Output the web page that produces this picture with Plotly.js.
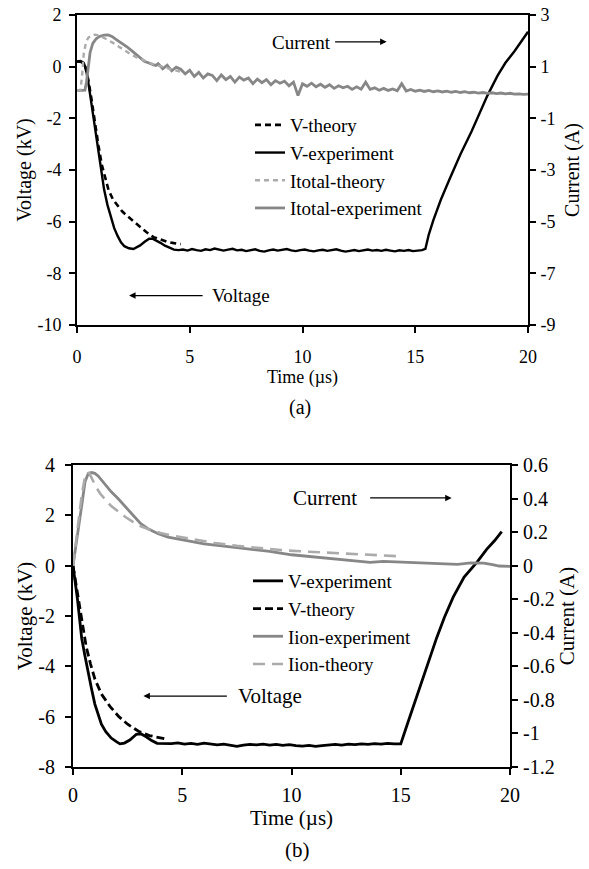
<!DOCTYPE html>
<html><head><meta charset="utf-8">
<script src="https://cdn.plot.ly/plotly-3.0.1.min.js"></script>
<style>html,body{margin:0;padding:0;background:#fff}#chart{width:589px;height:869px}</style>
</head><body><div id="chart"></div><script>
// ---------- (a) top panel ----------
const tA_Vtheory = [0,0.2,0.35,0.5,0.65,0.8,0.95,1.1,1.25,1.4,1.6,1.8,2.0,2.2,2.5,2.8,3.1,3.4,3.7,4.0,4.3,4.6];
const vA_theory = [0.2,0.18,0.05,-0.5,-1.3,-2.2,-3.05,-3.8,-4.35,-4.78,-5.15,-5.4,-5.6,-5.76,-5.98,-6.2,-6.42,-6.6,-6.7,-6.78,-6.83,-6.87];

const tA_Vexp = [0,0.15,0.3,0.4,0.5,0.6,0.7,0.8,0.9,1.0,1.1,1.2,1.35,1.5,1.65,1.8,1.95,2.1,2.3,2.5,2.65,2.8,3.0,3.2,3.35,3.5,3.7,3.9,4.1,4.3,4.5,
 4.7,4.9,5.1,5.3,5.5,5.7,5.9,6.1,6.3,6.5,6.7,6.9,7.1,7.3,7.5,7.7,7.9,8.1,8.3,8.5,8.7,8.9,9.1,9.3,9.5,9.7,9.9,
 10.1,10.3,10.5,10.7,10.9,11.1,11.3,11.5,11.7,11.9,12.1,12.3,12.5,12.7,12.9,13.1,13.3,13.5,13.7,13.9,14.1,14.3,14.5,14.7,14.9,15.1,15.3,
 15.45,15.6,15.8,16.13,16.5,17.0,17.5,18.0,18.2,18.65,19.0,19.4,19.7,20.0];
const vA_exp = [0.2,0.22,0.15,-0.1,-0.6,-1.2,-1.8,-2.5,-3.1,-3.7,-4.25,-4.75,-5.35,-5.85,-6.25,-6.55,-6.8,-6.95,-7.03,-7.06,-7.0,-6.92,-6.78,-6.66,-6.66,-6.72,-6.82,-6.93,-7.02,-7.08,-7.1,
 -7.08,-7.12,-7.06,-7.1,-7.13,-7.07,-7.1,-7.04,-7.09,-7.12,-7.08,-7.05,-7.11,-7.09,-7.14,-7.1,-7.07,-7.13,-7.16,-7.11,-7.08,-7.12,-7.09,-7.06,-7.11,-7.14,-7.1,
 -7.08,-7.12,-7.15,-7.11,-7.09,-7.13,-7.1,-7.07,-7.12,-7.16,-7.13,-7.1,-7.14,-7.11,-7.08,-7.12,-7.1,-7.13,-7.09,-7.12,-7.15,-7.11,-7.13,-7.1,-7.14,-7.12,-7.1,
 -7.05,-6.5,-5.95,-5.16,-4.4,-3.4,-2.5,-1.55,-1.12,-0.35,0.15,0.6,0.98,1.35];

const tA_Itheory = [0,0.15,0.22,0.3,0.4,0.5,0.65,0.8,1.0,1.2,1.4,1.6,1.8,2.0,2.2,2.4,2.6,2.8,3.0,3.3,3.6,4.0,4.4,4.6];
const iA_theory = [0.07,0.09,0.6,1.5,1.95,2.12,2.22,2.24,2.2,2.12,2.02,1.92,1.8,1.68,1.57,1.47,1.38,1.3,1.22,1.12,1.04,0.94,0.84,0.8];

const tA_Iexp = [0,0.2,0.35,0.42,0.5,0.58,0.7,0.85,1.0,1.2,1.38,1.55,1.76,2.0,2.2,2.45,2.65,2.85,3.0,3.1,3.2,3.3,3.4,3.5,
 3.6,3.8,4.0,4.2,4.4,4.6,4.8,5.0,5.2,5.4,5.6,5.8,
 6.0,6.2,6.4,6.6,6.8,7.0,7.2,7.4,7.6,7.8,
 8.0,8.2,8.4,8.6,8.8,9.0,9.2,9.4,9.6,9.8,
 10.0,10.2,10.4,10.6,10.8,11.0,11.2,11.4,11.6,11.8,
 12.0,12.2,12.4,12.6,12.8,13.0,13.2,13.4,13.6,13.8,
 14.0,14.2,14.4,14.6,14.8,15.0,15.2,15.4,15.6,15.8,
 16.0,16.2,16.4,16.6,16.8,17.0,17.2,17.4,17.6,17.8,
 18.0,18.2,18.4,18.6,18.8,19.0,19.2,19.4,19.6,19.8,20.0];
const iA_exp = [0.07,0.07,0.09,0.4,1.0,1.55,1.9,2.08,2.17,2.22,2.23,2.17,2.04,1.9,1.78,1.6,1.46,1.3,1.2,1.17,1.13,1.1,1.07,1.05,
 1.12,0.92,1.06,0.84,0.98,0.9,0.72,0.86,0.62,0.78,0.56,0.72,
 0.66,0.46,0.68,0.5,0.62,0.4,0.6,0.48,0.56,0.34,
 0.52,0.38,0.5,0.3,0.46,0.36,0.44,0.26,0.4,-0.12,
 0.34,0.24,0.36,0.22,0.32,0.2,0.3,0.16,0.26,0.18,
 0.24,0.12,0.22,0.13,0.4,0.12,0.18,0.09,0.16,0.08,
 0.14,0.07,0.34,0.06,0.12,0.05,0.09,0.04,0.08,0.03,
 0.06,0.02,0.05,0.01,0.04,0.0,0.03,-0.01,0.01,-0.02,
 0.0,-0.03,-0.01,-0.04,-0.02,-0.05,-0.03,-0.06,-0.05,-0.07,-0.06];

// ---------- (b) bottom panel ----------
const tB_Vexp = [0,0.1,0.2,0.3,0.4,0.55,0.7,0.85,1.0,1.15,1.3,1.5,1.75,2.0,2.15,2.35,2.6,2.9,3.1,3.35,3.6,3.85,4.2,
 4.5,4.8,5.1,5.4,5.7,6.0,6.3,6.6,6.9,7.2,7.5,7.8,8.1,8.4,8.7,9.0,9.3,9.6,9.9,10.2,10.5,10.8,11.1,11.4,11.7,12.0,12.3,12.6,12.9,13.2,13.5,13.8,14.1,14.4,14.7,
 15.0,15.3,15.57,16.03,16.34,16.65,17.0,17.4,17.9,18.5,18.93,19.3,19.62];
const vB_exp = [0,-0.6,-1.3,-2.1,-2.9,-3.6,-4.3,-4.9,-5.5,-5.95,-6.3,-6.6,-6.85,-7.0,-7.08,-7.05,-6.93,-6.7,-6.68,-6.8,-6.95,-7.06,-7.08,
 -7.07,-7.04,-7.09,-7.06,-7.1,-7.05,-7.08,-7.12,-7.09,-7.15,-7.18,-7.13,-7.1,-7.12,-7.09,-7.13,-7.1,-7.14,-7.11,-7.15,-7.17,-7.14,-7.18,-7.15,-7.12,-7.1,-7.13,-7.09,-7.11,-7.08,-7.1,-7.07,-7.09,-7.06,-7.08,
 -7.08,-6.3,-5.6,-4.4,-3.6,-2.85,-2.05,-1.25,-0.45,0.15,0.65,1.0,1.35];

const tB_Vtheory = [0,0.2,0.4,0.6,0.8,1.0,1.3,1.7,2.1,2.5,3.0,3.5,4.2];
const vB_theory = [0,-1.1,-2.2,-3.2,-3.9,-4.5,-5.1,-5.6,-6.0,-6.3,-6.58,-6.75,-6.88];

const tB_Iexp = [0,0.2,0.4,0.55,0.7,0.85,1.0,1.15,1.3,1.5,1.75,2.06,2.4,2.82,3.1,3.43,3.9,4.35,5.0,5.35,6.0,7.0,8.0,9.0,10.0,10.8,11.45,12.2,12.8,13.6,14.2,14.8,15.5,16.5,17.6,18.2,18.8,19.2,19.5,20.0];
const iB_exp = [0,0.17,0.36,0.5,0.55,0.555,0.55,0.535,0.51,0.475,0.44,0.4,0.35,0.29,0.25,0.22,0.19,0.17,0.155,0.145,0.13,0.115,0.1,0.085,0.065,0.055,0.048,0.035,0.03,0.02,0.025,0.022,0.02,0.015,0.008,0.016,0.015,0.006,-0.002,-0.004];

const tB_Itheory = [0,0.2,0.4,0.55,0.65,0.75,0.9,1.05,1.24,1.5,1.75,2.0,2.4,2.76,3.1,3.5,4.0,4.5,5.35,6.5,7.5,8.4,9.5,10.5,11.5,12.5,13.5,14.5,15.1];
const iB_theory = [0,0.2,0.42,0.53,0.555,0.55,0.51,0.47,0.43,0.39,0.355,0.33,0.29,0.26,0.235,0.215,0.195,0.18,0.16,0.135,0.118,0.105,0.093,0.085,0.078,0.07,0.064,0.058,0.055];

// tick labels
const xTicks = [0,5,10,15,20];
const xTickText = ['0','5','10','15','20'];
const yA_ticks = [2,0,-2,-4,-6,-8,-10];
const yA_tickText = ['2','0','-2','-4','-6','-8','-10'];
const yA2_ticks = [3,1,-1,-3,-5,-7,-9];
const yA2_tickText = ['3','1','-1','-3','-5','-7','-9'];
const yB_ticks = [4,2,0,-2,-4,-6,-8];
const yB_tickText = ['4','2','0','-2','-4','-6','-8'];
const yB2_ticks = [0.6,0.4,0.2,0,-0.2,-0.4,-0.6,-0.8,-1,-1.2];
const yB2_tickText = ['0.6','0.4','0.2','0','-0.2','-0.4','-0.6','-0.8','-1','-1.2'];

const FONT = '"Liberation Serif","Times New Roman",serif';
const GRAY_EXP = '#878787';
const GRAY_TH = '#ababab';
const W = 589, H = 869;
const px = v => v / W, py = v => 1 - v / H;

const traces = [
  {x: tA_Iexp, y: iA_exp, xaxis:'x', yaxis:'y2', name:'Itotal-experiment', mode:'lines', line:{color:GRAY_EXP, width:2.8}, legend:'legend', legendrank:4},
  {x: tA_Itheory, y: iA_theory, xaxis:'x', yaxis:'y2', name:'Itotal-theory', mode:'lines', line:{color:GRAY_TH, width:2.4, dash:'5px,4px'}, legend:'legend', legendrank:3},
  {x: tA_Vtheory, y: vA_theory, xaxis:'x', yaxis:'y', name:'V-theory', mode:'lines', line:{color:'#000', width:2.6, dash:'6px,4px'}, legend:'legend', legendrank:1},
  {x: tA_Vexp, y: vA_exp, xaxis:'x', yaxis:'y', name:'V-experiment', mode:'lines', line:{color:'#000', width:2.4}, legend:'legend', legendrank:2},

  {x: tB_Iexp, y: iB_exp, xaxis:'x2', yaxis:'y4', name:'Iion-experiment', mode:'lines', line:{color:GRAY_EXP, width:2.8}, legend:'legend2', legendrank:3},
  {x: tB_Itheory, y: iB_theory, xaxis:'x2', yaxis:'y4', name:'Iion-theory', mode:'lines', line:{color:GRAY_TH, width:2.6, dash:'12px,7px'}, legend:'legend2', legendrank:4},
  {x: tB_Vtheory, y: vB_theory, xaxis:'x2', yaxis:'y3', name:'V-theory', mode:'lines', line:{color:'#000', width:2.8, dash:'8px,4px'}, legend:'legend2', legendrank:2},
  {x: tB_Vexp, y: vB_exp, xaxis:'x2', yaxis:'y3', name:'V-experiment', mode:'lines', line:{color:'#000', width:2.8}, legend:'legend2', legendrank:1}
];

const axBase = {showline:true, linecolor:'#000', linewidth:2, ticks:'outside', ticklen:6, tickwidth:2, tickcolor:'#000',
  showgrid:false, zeroline:false, fixedrange:true, tickmode:'array'};

const layout = {
  width: W, height: H, margin:{l:0, r:0, t:0, b:0},
  paper_bgcolor:'#fff', plot_bgcolor:'#fff', showlegend:true,
  font:{family:FONT, color:'#000', size:18},
  xaxis: Object.assign({}, axBase, {domain:[px(77), px(528)], anchor:'y', range:[0,20], mirror:true,
    tickvals:xTicks, ticktext:xTickText, tickfont:{family:FONT, size:18}, ticklabelstandoff:8,
    title:{text:'Time (µs)', font:{family:FONT, size:18}, standoff:2}}),
  yaxis: Object.assign({}, axBase, {domain:[py(325), py(15)], anchor:'x', range:[-10,2],
    tickvals:yA_ticks, ticktext:yA_tickText, tickfont:{family:FONT, size:18}, ticklabelstandoff:4,
    title:{text:'Voltage (kV)', font:{family:FONT, size:20}, standoff:0}}),
  yaxis2: Object.assign({}, axBase, {overlaying:'y', side:'right', anchor:'x', range:[-9,3],
    tickvals:yA2_ticks, ticktext:yA2_tickText, tickfont:{family:FONT, size:18}, ticklabelstandoff:1,
    title:{text:'Current (A)', font:{family:FONT, size:20}, standoff:10}}),
  xaxis2: Object.assign({}, axBase, {domain:[px(73), px(510)], anchor:'y3', range:[0,20], mirror:true,
    tickvals:xTicks, ticktext:xTickText, tickfont:{family:FONT, size:20}, ticklabelstandoff:3,
    title:{text:'Time (µs)', font:{family:FONT, size:21}, standoff:0}}),
  yaxis3: Object.assign({}, axBase, {domain:[py(767), py(465)], anchor:'x2', range:[-8,4],
    tickvals:yB_ticks, ticktext:yB_tickText, tickfont:{family:FONT, size:20}, ticklabelstandoff:6,
    title:{text:'Voltage (kV)', font:{family:FONT, size:21}, standoff:0}}),
  yaxis4: Object.assign({}, axBase, {overlaying:'y3', side:'right', anchor:'x2', range:[-1.2,0.6],
    tickvals:yB2_ticks, ticktext:yB2_tickText, tickfont:{family:FONT, size:20}, ticklabelstandoff:1,
    title:{text:'Current (A)', font:{family:FONT, size:21}, standoff:6}}),
  legend: {x:px(250), y:py(106), xanchor:'left', yanchor:'top', bgcolor:'rgba(0,0,0,0)', borderwidth:0,
    font:{family:FONT, size:19}, itemwidth:30},
  legend2: {x:px(248), y:py(562), xanchor:'left', yanchor:'top', bgcolor:'rgba(0,0,0,0)', borderwidth:0,
    font:{family:FONT, size:19}, itemwidth:30},
  annotations: [
    {xref:'x', yref:'y', x:9.96, y:0.92, text:'Current', showarrow:false, xanchor:'center', yanchor:'middle', font:{family:FONT, size:19}},
    {xref:'x', yref:'y', x:13.73, y:0.96, ax:-53, ay:0, text:'', showarrow:true, arrowhead:2, arrowsize:1, arrowwidth:1.3, arrowcolor:'#000'},
    {xref:'x', yref:'y', x:7.29, y:-8.87, text:'Voltage', showarrow:false, xanchor:'center', yanchor:'middle', font:{family:FONT, size:19}},
    {xref:'x', yref:'y', x:2.31, y:-8.86, ax:75, ay:0, text:'', showarrow:true, arrowhead:2, arrowsize:1, arrowwidth:1.3, arrowcolor:'#000'},
    {xref:'x2', yref:'y3', x:11.53, y:2.69, text:'Current', showarrow:false, xanchor:'center', yanchor:'middle', font:{family:FONT, size:21}},
    {xref:'x2', yref:'y3', x:17.33, y:2.69, ax:-83, ay:0, text:'', showarrow:true, arrowhead:2, arrowsize:1, arrowwidth:1.3, arrowcolor:'#000'},
    {xref:'x2', yref:'y3', x:9.02, y:-5.18, text:'Voltage', showarrow:false, xanchor:'center', yanchor:'middle', font:{family:FONT, size:21}},
    {xref:'x2', yref:'y3', x:3.22, y:-5.18, ax:85, ay:0, text:'', showarrow:true, arrowhead:2, arrowsize:1, arrowwidth:1.3, arrowcolor:'#000'},
    {xref:'paper', yref:'paper', x:px(300), y:py(407), text:'(a)', showarrow:false, xanchor:'center', yanchor:'middle', font:{family:FONT, size:20}},
    {xref:'paper', yref:'paper', x:px(297), y:py(850), text:'(b)', showarrow:false, xanchor:'center', yanchor:'middle', font:{family:FONT, size:21}}
  ]
};

Plotly.newPlot('chart', traces, layout, {staticPlot:true, displayModeBar:false});
</script></body></html>
